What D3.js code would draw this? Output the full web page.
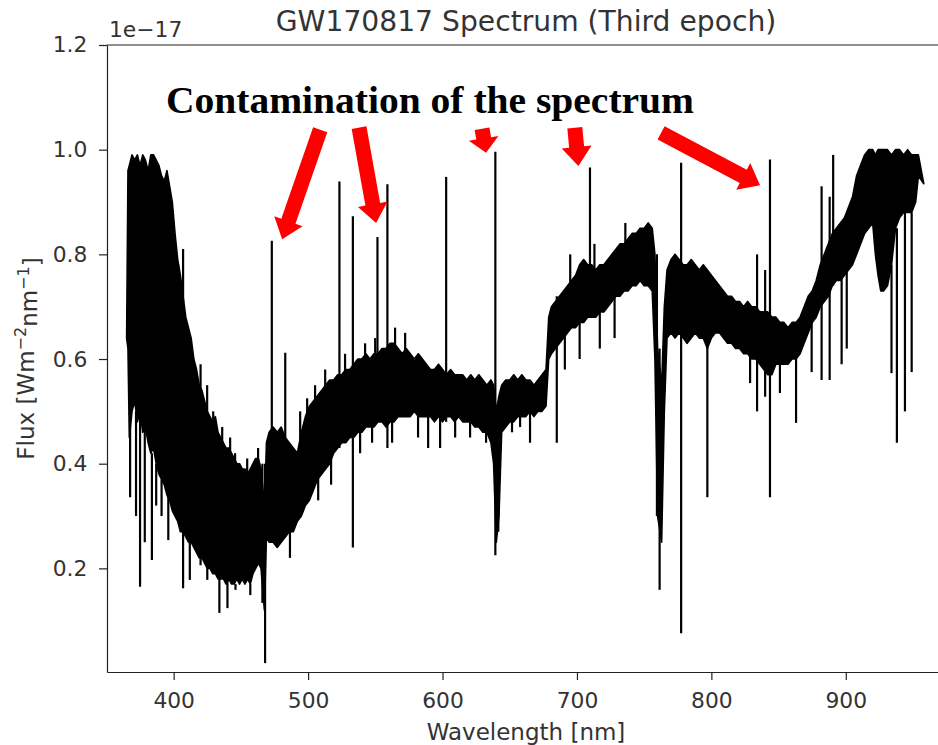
<!DOCTYPE html>
<html>
<head>
    <title>GW170817 Spectrum (Third epoch)</title>
    <script src='https://d3js.org/d3.v7.min.js'></script>
    <style>
        html, body {
            margin: 0;
            padding: 0;
            background: white;
        }
        #vis { width: 938px; height: 745px; }
        text { font-family: 'DejaVu Sans', sans-serif; fill: #333; }
    </style>
</head>
<body>
<div id="vis"></div>
<script>

// Spectrum: upper and lower edge of the noisy band (flux in 1e-17 W m^-2 nm^-1)
var wavelength = [
    365,366,367,369,371,373,375,377,379,381,383,385,387,389,391,393,395,397,399,
    401,403,405,407,409,411,413,415,417,419,421,423,425,427,429,431,433,435,437,439,
    441,443,445,447,449,451,453,455,457,459,461,463,465,466.5,467.5,469,
    471,474,477,480,483,486,489,492,495,498,501,504,507,
    510,513,516,519,522,525,528,531,534,537,540,
    543,546,549,552,555,558,561,564,567,570,573,
    576,579,582,585,588,591,594,597,600,603,606,
    609,612,615,618,621,624,627,630,633,636,
    638,640,642,644,647,650,653,656,659,662,665,668,671,674,677,
    679,681,684,687,690,693,696,699,702,705,708,711,714,717,720,
    723,726,729,732,735,738,741,744,747,750,753,756,
    758,760,763,765,767,770,773,776,779,782,785,788,791,794,797,800,
    803,806,809,812,815,818,821,824,827,830,833,836,839,842,845,
    848,851,854,857,860,863,866,869,872,875,878,881,884,887,890,893,896,899,902,905,
    908,911,914,917,920,922,924,926,928,931,934,937,940,943,946,949,952,954,958
];
var fluxTop = [
    .64,.96,.97,.99,.98,.99,.97,.99,.98,.96,.99,.99,.98,.97,.95,.94,.96,.93,.90,
    .84,.79,.76,.72,.68,.66,.64,.60,.58,.55,.54,.52,.50,.49,.48,.49,.46,.45,.44,.43,
    .43,.42,.41,.40,.40,.39,.39,.38,.39,.40,.41,.41,.39,.35,.30,.44,
    .46,.47,.46,.47,.45,.44,.43,.42,.46,.49,.51,.52,.53,
    .54,.55,.56,.56,.57,.57,.58,.58,.59,.60,.60,
    .61,.60,.61,.61,.62,.62,.63,.63,.62,.61,.62,
    .61,.60,.61,.60,.59,.58,.58,.59,.58,.57,.58,
    .57,.57,.57,.56,.57,.56,.57,.56,.55,.56,
    .55,.50,.53,.55,.56,.56,.57,.56,.57,.56,.56,.55,.56,.57,.58,
    .68,.70,.71,.72,.73,.74,.75,.76,.78,.79,.78,.78,.77,.78,.78,
    .79,.80,.81,.82,.82,.83,.84,.84,.85,.85,.86,.85,
    .80,.62,.55,.70,.77,.79,.80,.79,.78,.78,.79,.78,.77,.78,.77,.76,
    .75,.74,.73,.72,.72,.71,.71,.70,.71,.70,.70,.69,.69,.69,.68,
    .68,.67,.67,.66,.67,.67,.68,.70,.72,.73,.75,.78,.80,.82,.84,.85,.86,.87,.89,.91,
    .95,.97,.99,1.0,1.0,.99,1.0,1.0,1.0,1.0,.99,1.0,1.0,.99,1.0,.99,.99,.99,.935
];
var fluxBottom = [
    .64,.62,.45,.50,.52,.48,.50,.46,.47,.44,.42,.43,.40,.38,.37,.36,.34,.33,.31,
    .30,.29,.27,.27,.26,.25,.25,.24,.23,.22,.22,.21,.20,.20,.19,.19,.18,.18,.18,.17,
    .18,.17,.17,.18,.17,.18,.17,.18,.17,.19,.20,.21,.20,.15,.12,.26,
    .25,.25,.24,.25,.26,.27,.27,.29,.30,.32,.33,.35,.37,
    .38,.39,.40,.42,.43,.44,.44,.45,.45,.46,.46,
    .47,.47,.47,.48,.48,.47,.48,.48,.49,.49,.49,
    .49,.50,.49,.49,.49,.49,.48,.49,.48,.49,.49,
    .48,.49,.48,.48,.48,.47,.47,.46,.46,.44,
    .40,.25,.30,.46,.47,.48,.48,.49,.49,.49,.50,.49,.50,.50,.51,
    .60,.61,.62,.63,.64,.65,.66,.66,.67,.67,.68,.68,.68,.69,.69,
    .70,.71,.72,.72,.73,.73,.74,.74,.75,.74,.74,.73,
    .60,.30,.25,.50,.64,.65,.64,.65,.64,.63,.64,.65,.64,.64,.62,.64,
    .65,.65,.64,.63,.63,.62,.62,.61,.61,.60,.60,.59,.58,.57,.57,
    .59,.59,.59,.59,.60,.60,.61,.63,.65,.67,.68,.70,.71,.72,.74,.75,.75,.76,.77,.78,
    .80,.82,.84,.85,.86,.80,.76,.73,.73,.74,.78,.85,.87,.88,.88,.88,.90,.95,.935
];

// single pixels that stick out of the band: wavelength, flux at one end, flux at the other end
var spikeWavelength = [
    367.6,372,375,378.5,383.8,387,391,396,407,412,420,425,434,440,446,457,466,468,
    403.3,410.8,424.9,429.4,436.1,442,445.7,454.7,462.8,
    473,483,486.5,523.3,533.3,551.6,559,602.7,639.3,641.5,
    494.1,499.3,505.2,512.7,527.5,542.4,549.9,564.7,572.2,
    507.5,517.1,538.7,547.6,562.5,581.8,589.3,598.2,609.4,620.5,632.4,651.7,657.7,665.1,
    685,691,695,702,709.7,713,717,728,736,
    759.5,761.5,777.5,781.7,797,828.8,834,840,843.6,851,863,
    874.6,882,888,890.6,896.9,900.7,934,938,944,949
];
var spikeFrom = [
    .96,.50,.95,.47,.42,.40,.37,.34,.81,.25,.59,.20,.18,.18,.17,.17,.40,.40,
    .60,.55,.45,.42,.40,.38,.36,.35,.36,
    .826,.612,.27,.939,.873,.833,.934,.948,.996,.50,
    .40,.45,.48,.50,.52,.55,.56,.58,.58,
    .42,.45,.50,.50,.52,.53,.53,.53,.52,.52,.51,.52,.52,.53,
    .72,.66,.72,.70,.966,.74,.72,.75,.78,
    .80,.62,.975,.70,.77,.65,.80,.77,.981,.59,.60,
    .70,.93,.91,.99,.80,.82,.78,.85,.88,.88
];
var spikeTo = [
    .336,.30,.165,.25,.216,.32,.30,.254,.162,.178,.206,.178,.115,.124,.159,.149,.134,.019,
    .78,.65,.55,.50,.47,.45,.42,.41,.43,
    .25,.26,.22,.43,.24,.48,.43,.48,.225,.27,
    .50,.525,.55,.58,.61,.63,.64,.66,.65,
    .33,.36,.42,.44,.44,.45,.43,.43,.45,.45,.44,.46,.47,.44,
    .44,.58,.80,.60,.68,.82,.62,.64,.86,
    .30,.159,.076,.63,.336,.554,.50,.528,.336,.535,.478,
    .575,.56,.56,.74,.59,.62,.573,.44,.50,.575
];

// red arrows of the annotation (from -> to, in data units)
var arrowFromWl = [509.0, 537.9, 629.4, 698.4, 762.6];
var arrowFromFlux = [1.038, 1.042, 1.040, 1.042, 1.032];
var arrowToWl = [480.7, 550.6, 632.4, 701.1, 836.2];
var arrowToFlux = [0.829, 0.860, 0.994, 0.969, 0.932];

var xTicks = [400, 500, 600, 700, 800, 900];
var yTicks = [0.2, 0.4, 0.6, 0.8, 1.0, 1.2];

var width = 938;
var height = 745;
var margin = {top: 45, bottom: 73, left: 107, right: -7};
var plotRight = width - margin.right;
var plotBottom = height - margin.bottom;

var svg = d3.select('#vis')
    .append('svg')
    .attr('width', width)
    .attr('height', height);

var x_scale = d3.scaleLinear().domain([350.4, 973.8]).range([margin.left, plotRight]);
var y_scale = d3.scaleLinear().domain([0.002, 1.2]).range([plotBottom, margin.top]);

// the band
var band = wavelength.map(function(w, i) { return {w: w, hi: fluxTop[i], lo: fluxBottom[i]}; });
var area = d3.area()
    .x(function(d) { return x_scale(d.w); })
    .y0(function(d) { return y_scale(d.lo); })
    .y1(function(d) { return y_scale(d.hi); });
svg.append('path')
    .datum(band)
    .attr('d', area)
    .attr('fill', 'black')
    .attr('stroke', 'black')
    .attr('stroke-width', 1.6)
    .attr('stroke-linejoin', 'round');

svg.selectAll('.spike')
    .data(spikeWavelength)
    .enter().append('line')
    .attr('class', 'spike')
    .attr('x1', function(d) { return x_scale(d); })
    .attr('x2', function(d) { return x_scale(d); })
    .attr('y1', function(d, i) { return y_scale(spikeFrom[i]); })
    .attr('y2', function(d, i) { return y_scale(spikeTo[i]); })
    .attr('stroke', 'black')
    .attr('stroke-width', 2.2);

// axes
var xAxis = d3.axisBottom(x_scale).tickValues(xTicks).tickFormat(d3.format('d'))
    .tickSize(8).tickSizeOuter(0).tickPadding(12.5);
var yAxis = d3.axisLeft(y_scale).tickValues(yTicks).tickFormat(d3.format('.1f'))
    .tickSize(8).tickSizeOuter(0).tickPadding(11.7);

var gx = svg.append('g').attr('transform', 'translate(0,' + plotBottom + ')').call(xAxis);
var gy = svg.append('g').attr('transform', 'translate(' + margin.left + ',0)').call(yAxis);
[gx, gy].forEach(function(g) {
    g.attr('font-family', null).attr('font-size', null);
    g.selectAll('text').style('font-size', '21.8px').style('fill', '#333');
    g.selectAll('line, path').attr('stroke', '#222').attr('stroke-width', 1.2);
});

// top and right spines
svg.append('line').attr('x1', margin.left).attr('x2', plotRight)
    .attr('y1', margin.top).attr('y2', margin.top)
    .attr('stroke', '#222').attr('stroke-width', 1.2);
svg.append('line').attr('x1', plotRight).attr('x2', plotRight)
    .attr('y1', margin.top).attr('y2', plotBottom)
    .attr('stroke', '#222').attr('stroke-width', 1.2);

// labels
svg.append('text')
    .attr('x', 109).attr('y', 36.5)
    .style('font-size', '21.8px')
    .text('1e\u221217');

svg.append('text')
    .attr('x', (margin.left + plotRight) / 2).attr('y', 31)
    .attr('text-anchor', 'middle')
    .style('font-size', '28.2px')
    .text('GW170817 Spectrum (Third epoch)');

svg.append('text')
    .attr('x', (margin.left + plotRight) / 2).attr('y', 740)
    .attr('text-anchor', 'middle')
    .style('font-size', '23px')
    .text('Wavelength [nm]');

var ylab = svg.append('text')
    .attr('transform', 'translate(33.5,' + ((margin.top + plotBottom) / 2) + ') rotate(-90)')
    .attr('text-anchor', 'middle')
    .style('font-size', '23px');
ylab.append('tspan').text('Flux [Wm');
ylab.append('tspan').attr('dy', '-0.45em').style('font-size', '16px').text('\u22122');
ylab.append('tspan').attr('dy', '0.45em').text('nm');
ylab.append('tspan').attr('dy', '-0.45em').style('font-size', '16px').text('\u22121');
ylab.append('tspan').attr('dy', '0.45em').text(']');

// annotation
svg.append('text')
    .attr('x', 166).attr('y', 113)
    .attr('textLength', 528).attr('lengthAdjust', 'spacingAndGlyphs')
    .style('font-family', "'Liberation Serif', 'DejaVu Serif', serif")
    .style('font-weight', 'bold')
    .style('font-size', '37px')
    .style('fill', 'black')
    .text('Contamination of the spectrum');

function arrowShape(x1, y1, x2, y2) {
    var dx = x2 - x1, dy = y2 - y1;
    var len = Math.sqrt(dx * dx + dy * dy);
    var ux = dx / len, uy = dy / len, nx = -uy, ny = ux;
    var headLen = Math.min(19, len * 0.6), shaft = 7.5, head = 15;
    var bx = x2 - ux * headLen, by = y2 - uy * headLen;
    return [[x1 + nx * shaft, y1 + ny * shaft], [bx + nx * shaft, by + ny * shaft],
        [bx + nx * head, by + ny * head], [x2, y2], [bx - nx * head, by - ny * head],
        [bx - nx * shaft, by - ny * shaft], [x1 - nx * shaft, y1 - ny * shaft]];
}

svg.selectAll('.arrow')
    .data(arrowFromWl)
    .enter().append('polygon')
    .attr('class', 'arrow')
    .attr('points', function(d, i) {
        return arrowShape(x_scale(d), y_scale(arrowFromFlux[i]),
            x_scale(arrowToWl[i]), y_scale(arrowToFlux[i])).join(' ');
    })
    .attr('fill', '#ff0000');

</script>
</body>
</html>
